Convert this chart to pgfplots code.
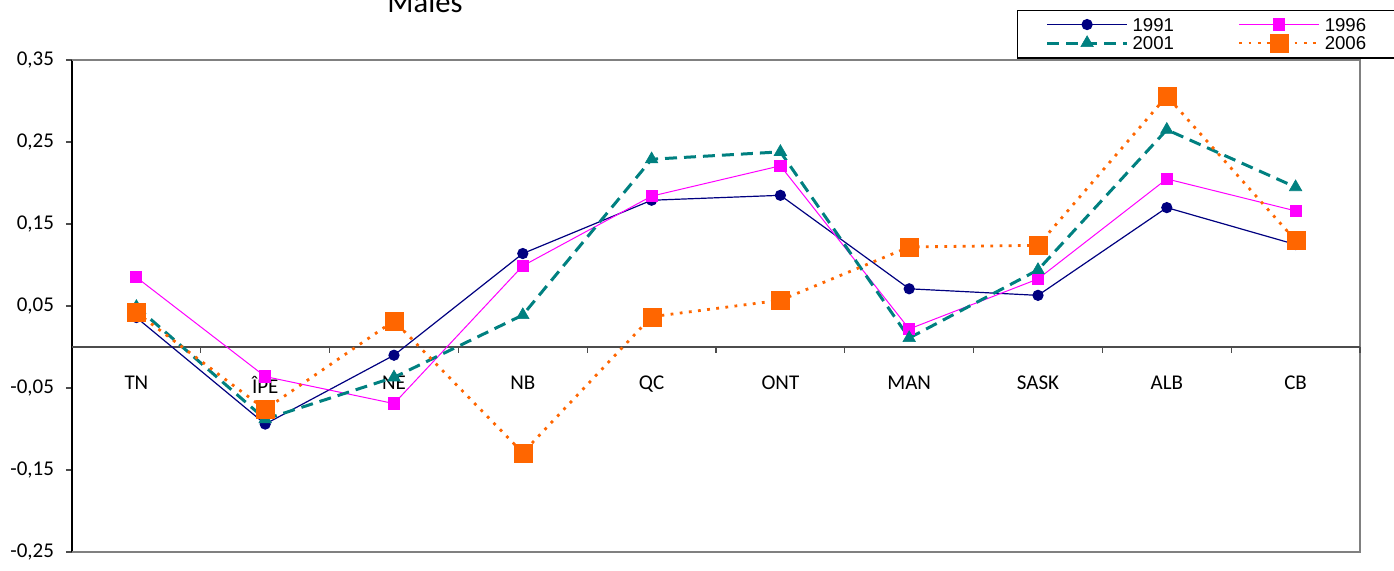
\documentclass[border=0pt]{standalone}
\usepackage{pgfplots}
\pgfplotsset{compat=1.18}
\usepackage{fontspec}
\setmainfont{Carlito}
\newfontfamily\legendfont{Liberation Sans}
\definecolor{navyc}{RGB}{0,0,128}
\definecolor{magc}{RGB}{255,0,255}
\definecolor{tealc}{RGB}{0,128,128}
\definecolor{orangec}{RGB}{255,102,0}
\begin{document}
\begin{tikzpicture}
\useasboundingbox (0,0) rectangle (697pt,-285pt);
\node[font=\fontsize{15.3}{18}\selectfont, anchor=base] at (212.5pt,-6pt) {Males};
\begin{axis}[
  at={(36pt,-276pt)}, anchor=south west,
  scale only axis, width=644pt, height=246pt,
  xmin=-0.5, xmax=9.5, ymin=-0.25, ymax=0.35,
  axis x line=middle, axis y line=left,
  axis line style={-},
  x axis line style={draw=none},
  y axis line style={draw=black, line width=0.6pt},
  tick align=outside,
  xtick={0,...,9},
  xticklabels={TN,ÎPE,NE,NB,QC,ONT,MAN,SASK,ALB,CB},
  xtick style={draw=none},
  x tick label style={font=\fontsize{10.5}{12}\selectfont, anchor=north, yshift=-8pt},
  ytick={-0.25,-0.15,-0.05,0.05,0.15,0.25,0.35},
  yticklabels={{-0,25},{-0,15},{-0,05},{0,05},{0,15},{0,25},{0,35}},
  y tick label style={font=\fontsize{10.5}{12}\selectfont, xshift=-2.5pt},
  ytick style={draw=black!70, line width=0.6pt},
  major tick length=3pt,
  clip=false,
  legend columns=2,
  legend style={at={(0.7337,1.1016)}, anchor=north west, draw=black, line width=0.6pt,
    font=\legendfont\fontsize{9.3}{10}\selectfont, inner xsep=14pt, inner ysep=3pt,
    nodes={inner ysep=0.6pt, text height=6.7pt, text depth=0pt},
    row sep=0.8pt,
    /tikz/every even column/.append style={column sep=30pt}},
  legend image code/.code={\draw[mark repeat=2,mark phase=2] plot coordinates {(0pt,0pt) (20pt,0pt) (40pt,0pt)};},
]
\draw[gray, line width=0.7pt] (rel axis cs:0,0) -- (rel axis cs:1,0) -- (rel axis cs:1,1) -- (rel axis cs:0,1);
\draw[black!70, line width=0.8pt] (axis cs:-0.5,0) -- (axis cs:9.5,0);
\pgfplotsinvokeforeach{0.5,1.5,2.5,3.5,4.5,5.5,6.5,7.5,8.5,9.5}{
  \draw[black!70, line width=0.6pt] (axis cs:#1,0) -- ([yshift=-3pt]axis cs:#1,0);
}
\addplot[navyc, line width=0.6pt, mark=*, mark size=2.5pt, mark options={solid, fill=navyc}]
  coordinates {(0,0.036) (1,-0.094) (2,-0.010) (3,0.114) (4,0.179) (5,0.185) (6,0.071) (7,0.063) (8,0.170) (9,0.125)};
\addlegendentry{1991}
\addplot[magc, line width=0.5pt, mark=square*, mark size=2.8pt, mark options={solid, fill=magc}]
  coordinates {(0,0.085) (1,-0.036) (2,-0.069) (3,0.099) (4,0.184) (5,0.221) (6,0.022) (7,0.083) (8,0.205) (9,0.166)};
\addlegendentry{1996}
\addplot[tealc, line width=1.5pt, dash pattern=on 6pt off 3.5pt, mark=triangle*, mark size=3.6pt, mark options={solid, fill=tealc, line width=0.3pt}]
  coordinates {(0,0.049) (1,-0.088) (2,-0.037) (3,0.039) (4,0.229) (5,0.238) (6,0.011) (7,0.094) (8,0.265) (9,0.195)};
\addlegendentry{2001}
\addplot[orangec, line width=1.4pt, dash pattern=on 1.4pt off 3.2pt, mark=square*, mark size=4.5pt, mark options={solid, fill=orangec, line width=0.1pt}]
  coordinates {(0,0.042) (1,-0.076) (2,0.032) (3,-0.129) (4,0.037) (5,0.057) (6,0.122) (7,0.124) (8,0.306) (9,0.130)};
\addlegendentry{2006}
\end{axis}
\end{tikzpicture}
\end{document}
